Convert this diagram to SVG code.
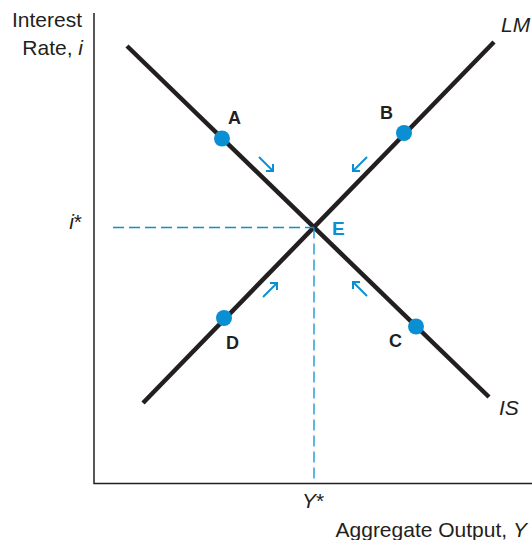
<svg xmlns="http://www.w3.org/2000/svg" width="532" height="540" viewBox="0 0 532 540">
<style>
.axis{stroke:#231f20;stroke-width:1.5;fill:none}
.curve{stroke:#231f20;stroke-width:4.5;fill:none;stroke-linecap:butt}
.dash{stroke:#0b8fd3;stroke-width:1.3;stroke-dasharray:11 5;fill:none}
.arr{stroke:#0b8fd3;stroke-width:2;fill:none;marker-end:url(#head)}
.dot{fill:#0b8fd3}
.lbl{font-family:"Liberation Sans",Arial,sans-serif;font-size:21px;fill:#231f20}
.it{font-style:italic}
.pt{font-family:"Liberation Sans",Arial,sans-serif;font-size:18px;font-weight:bold;fill:#231f20}
.ptE{font-family:"Liberation Sans",Arial,sans-serif;font-size:19px;font-weight:bold;fill:#0b8fd3}
</style>
<defs>
<marker id="head" viewBox="-7 -6 8 12" refX="0" refY="0" markerWidth="8" markerHeight="12" markerUnits="userSpaceOnUse" orient="auto">
<path d="M-5,-5 L0,0 L-5,5" stroke="#0b8fd3" stroke-width="2" fill="none"/>
</marker>
</defs>
<rect width="532" height="540" fill="#ffffff"/>
<g id="axes">
<path class="axis" d="M94,13 V483.5 H532"/>
<text class="lbl" x="82" y="27" text-anchor="end">Interest</text>
<text class="lbl" x="83" y="55" text-anchor="end">Rate, <tspan class="it">i</tspan></text>
<text class="lbl" x="527" y="537" text-anchor="end">Aggregate Output, <tspan class="it">Y</tspan></text>
<text class="lbl" x="82" y="229" text-anchor="end"><tspan class="it">i</tspan>*</text>
<text class="lbl" x="313" y="508" text-anchor="middle"><tspan class="it">Y</tspan>*</text>
</g>
<g id="IS">
<line class="curve" x1="127" y1="46" x2="489" y2="397"/>
<text class="lbl it" x="499" y="415">IS</text>
</g>
<g id="LM">
<line class="curve" x1="143" y1="403" x2="494" y2="42"/>
<text class="lbl it" x="501" y="32">LM</text>
</g>
<g id="connectors">
<path class="dash" d="M113,227.5 H314"/>
<path class="dash" d="M314,227.5 V483"/>
<line class="arr" x1="259" y1="157" x2="273" y2="171"/>
<line class="arr" x1="367" y1="157" x2="353" y2="171"/>
<line class="arr" x1="263" y1="297" x2="277" y2="283"/>
<line class="arr" x1="367" y1="296" x2="353" y2="282"/>
</g>
<g id="A">
<circle class="dot" cx="222" cy="138.5" r="8"/>
<text class="pt" x="228" y="124">A</text>
</g>
<g id="B">
<circle class="dot" cx="404" cy="133" r="8"/>
<text class="pt" x="380" y="119">B</text>
</g>
<g id="C">
<circle class="dot" cx="416" cy="326.5" r="8"/>
<text class="pt" x="389" y="347">C</text>
</g>
<g id="D">
<circle class="dot" cx="224" cy="318" r="8"/>
<text class="pt" x="226" y="349">D</text>
</g>
<g id="E">
<text class="ptE" x="332" y="235">E</text>
</g>
</svg>
